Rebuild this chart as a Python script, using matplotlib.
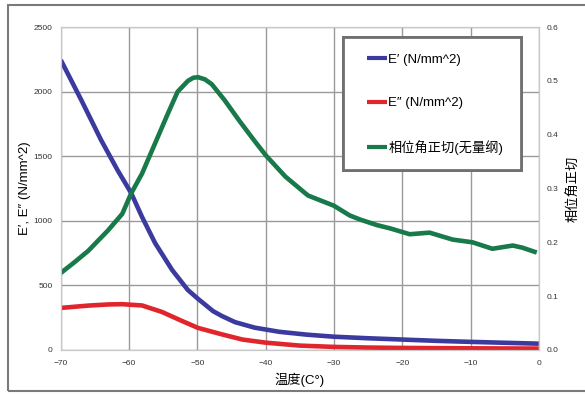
import matplotlib
matplotlib.use('Agg')
import matplotlib.pyplot as plt
from matplotlib.patches import Rectangle

plt.rcParams['font.family'] = ['Liberation Sans', 'Noto Sans CJK SC', 'DejaVu Sans']

# storage modulus E' (N/mm^2)
t_e1 = [-70, -67, -64.1, -61.7, -59.7, -58.1, -56.2, -53.7, -51.4, -49.9, -47.7,
        -46.4, -44.5, -41.6, -38, -34, -30, -25, -20, -15, -10, -5, 0]
e1 = [2245, 1935, 1625, 1393, 1215, 1029, 828, 619, 464, 395, 300,
      262, 215, 172, 140, 118, 102, 90, 80, 70, 62, 55, 48]

# loss modulus E'' (N/mm^2)
t_e2 = [-70, -66, -63, -61, -58.1, -55.2, -52.3, -49.9, -46.4, -43.4,
        -40, -35, -30, -25, -20, -10, 0]
e2 = [325, 343, 352, 354, 344, 294, 225, 170, 120, 80,
      56, 33, 23, 18, 15, 12, 10]

# loss tangent (dimensionless)
t_tan = [-70, -68, -66, -63.1, -61, -59.7, -58.1, -56.2, -54.3, -52.9, -51.4,
         -50.6, -49.9, -48.9, -47.9, -46, -43.8, -41.6, -40, -37.1, -33.8, -30,
         -27.7, -26.1, -23.7, -21.8, -18.9, -16, -12.6, -9.7, -6.8, -3.8, -2.4,
         -0.3]
tan_d = [0.143, 0.163, 0.184, 0.222, 0.253, 0.291, 0.328, 0.384, 0.440, 0.480, 0.500,
         0.506, 0.507, 0.503, 0.494, 0.464, 0.425, 0.388, 0.362, 0.322, 0.287, 0.268,
         0.250, 0.242, 0.232, 0.226, 0.215, 0.218, 0.205, 0.200, 0.188, 0.194, 0.190,
         0.181]

labels = ['E′ (N/mm^2)', 'E″ (N/mm^2)', '相位角正切(无量纲)']
colors = ['#3b3a9e', '#e0262c', '#18794a']

fig = plt.figure(figsize=(5.85, 3.94), dpi=100)
ax = fig.add_axes([0.104, 0.112, 0.817, 0.819])
ax2 = ax.twinx()

kw = dict(lw=3.3, solid_joinstyle='round', solid_capstyle='butt')
l1, = ax.plot(t_e1, e1, color=colors[0], **kw)
l2, = ax.plot(t_e2, e2, color=colors[1], **kw)
l3, = ax2.plot(t_tan, tan_d, color=colors[2], **kw)

ax.set_xlim(-70, 0)
ax.set_ylim(0, 2500)
ax2.set_ylim(0, 0.6)
ax.set_xticks(range(-70, 1, 10))
ax.set_yticks(range(0, 2501, 500))
ax2.set_yticks([0, 0.1, 0.2, 0.3, 0.4, 0.5, 0.6])
ax.grid(True, color='#9a9a9a', lw=1.0)
ax.set_axisbelow(True)

for a in (ax, ax2):
    a.tick_params(length=0, labelsize=6, labelcolor='#333333')
    for s in a.spines.values():
        s.set_color('#c8c8c8')
ax.tick_params(axis='y', pad=6)
ax.tick_params(axis='x', pad=7)
ax2.tick_params(axis='y', pad=6)

ax.set_xlabel('温度(C°)', fontsize=9.5, labelpad=4)
ax.set_ylabel('E′, E″ (N/mm^2)', fontsize=9.5, labelpad=2)
ax2.set_ylabel('相位角正切', fontsize=9.5, labelpad=6)

# legend box drawn by hand, entries on top without a frame
for a in (ax, ax2):
    a.add_patch(Rectangle((0.59, 0.558), 0.372, 0.411, transform=ax.transAxes,
                          facecolor='white', edgecolor='#707070', lw=2, zorder=5))
leg = ax2.legend([l1, l2, l3], labels, loc='upper left',
                 bbox_to_anchor=(0.641, 0.918), frameon=False, fontsize=9.5,
                 handlelength=1.5, handletextpad=0.1, labelspacing=2.35,
                 borderpad=0, borderaxespad=0)
leg.set_zorder(6)
for h in leg.legend_handles:
    h.set_linewidth(3)

# outer frame around the whole chart
fig.patches.append(Rectangle((8 / 585, 3 / 394), 1.0, 386 / 394,
                             transform=fig.transFigure, fill=False,
                             edgecolor='#7a7a7a', lw=1.5))

fig.savefig('out.png', dpi=100)
